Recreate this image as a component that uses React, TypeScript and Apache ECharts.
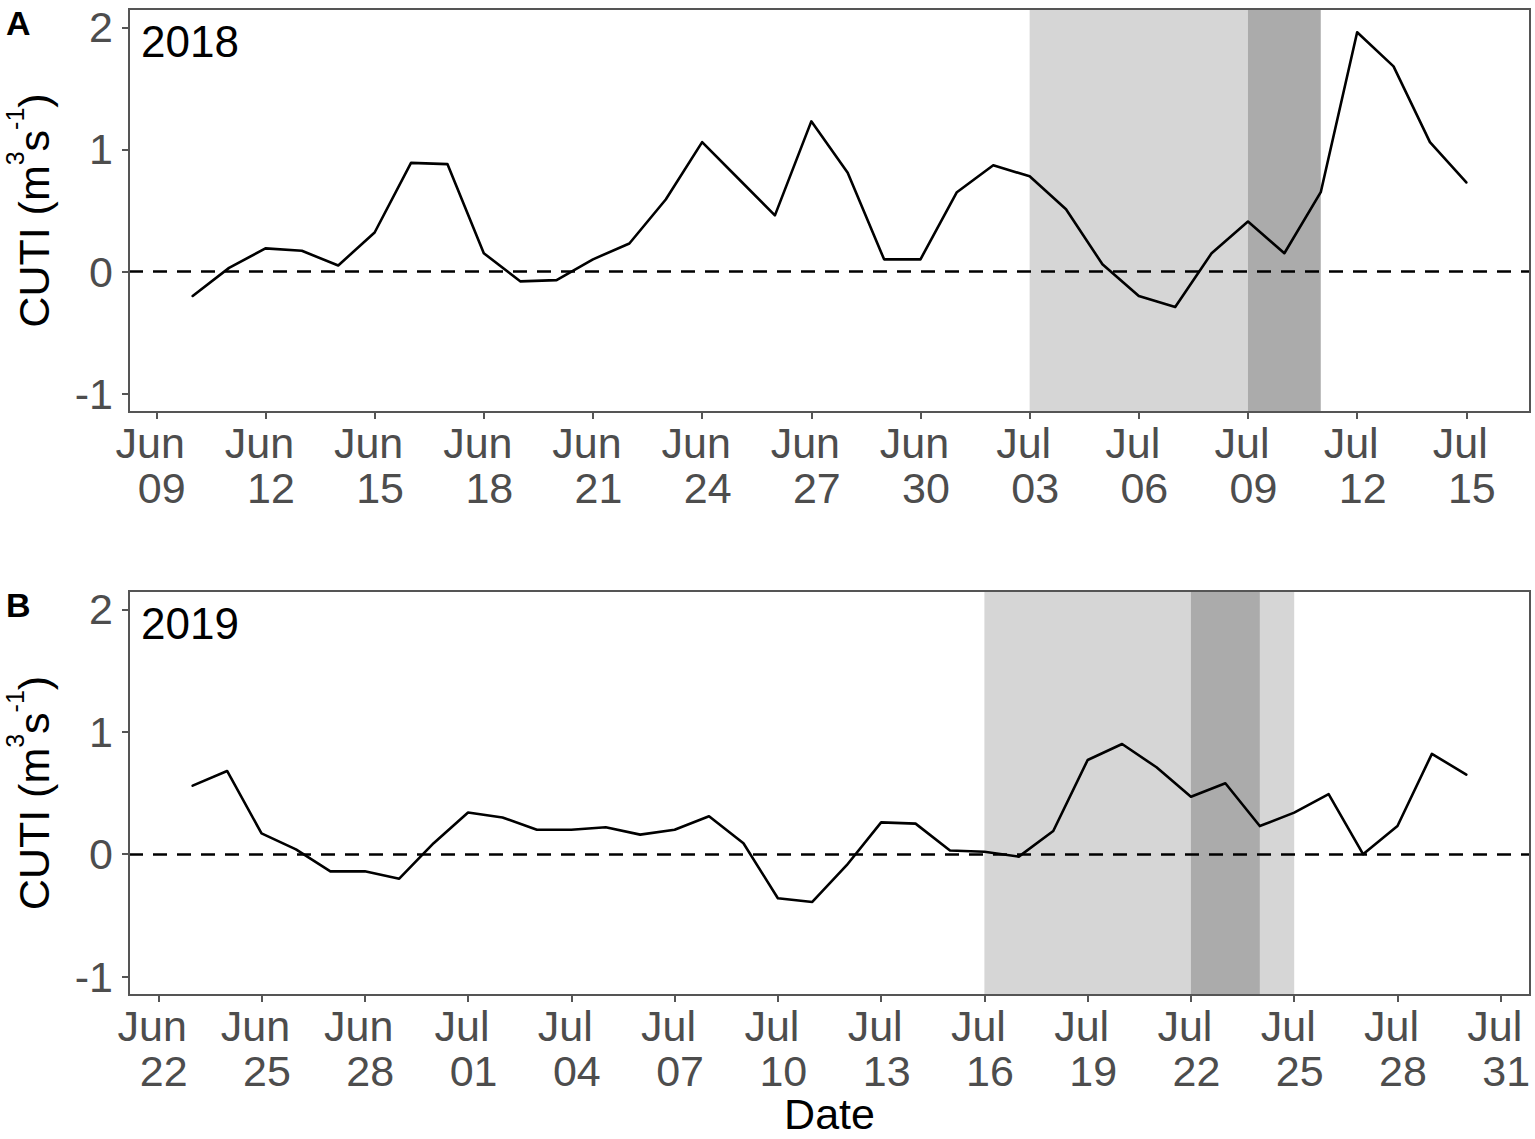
import React, { useEffect, useRef } from "react";
import * as echarts from "echarts";

// ---------------- data ----------------
const YEAR_A = 2018;
const datesA = [
  "06-10", "06-11", "06-12", "06-13", "06-14", "06-15", "06-16", "06-17", "06-18", "06-19",
  "06-20", "06-21", "06-22", "06-23", "06-24", "06-25", "06-26", "06-27", "06-28", "06-29",
  "06-30", "07-01", "07-02", "07-03", "07-04", "07-05", "07-06", "07-07", "07-08", "07-09",
  "07-10", "07-11", "07-12", "07-13", "07-14", "07-15",
];
const valuesA = [
  -0.2, 0.03, 0.19, 0.17, 0.05, 0.32, 0.89, 0.88, 0.15, -0.08,
  -0.07, 0.1, 0.23, 0.59, 1.06, 0.76, 0.46, 1.23, 0.81, 0.1,
  0.1, 0.65, 0.87, 0.78, 0.51, 0.06, -0.2, -0.29, 0.15, 0.41,
  0.15, 0.65, 1.96, 1.68, 1.06, 0.73,
];
const ticksA = ["06-09", "06-12", "06-15", "06-18", "06-21", "06-24", "06-27", "06-30", "07-03", "07-06", "07-09", "07-12", "07-15"];
const shadeA: [string, string, string][] = [
  ["07-03", "07-09", "light"],
  ["07-09", "07-11", "dark"],
];

const YEAR_B = 2019;
const datesB = [
  "06-23", "06-24", "06-25", "06-26", "06-27", "06-28", "06-29", "06-30", "07-01", "07-02",
  "07-03", "07-04", "07-05", "07-06", "07-07", "07-08", "07-09", "07-10", "07-11", "07-12",
  "07-13", "07-14", "07-15", "07-16", "07-17", "07-18", "07-19", "07-20", "07-21", "07-22",
  "07-23", "07-24", "07-25", "07-26", "07-27", "07-28", "07-29", "07-30",
];
const valuesB = [
  0.56, 0.68, 0.17, 0.04, -0.14, -0.14, -0.2, 0.09, 0.34, 0.3,
  0.2, 0.2, 0.22, 0.16, 0.2, 0.31, 0.09, -0.36, -0.39, -0.09,
  0.26, 0.25, 0.03, 0.02, -0.02, 0.19, 0.77, 0.9, 0.71, 0.47,
  0.58, 0.23, 0.34, 0.49, 0.0, 0.23, 0.82, 0.65,
];
const ticksB = ["06-22", "06-25", "06-28", "07-01", "07-04", "07-07", "07-10", "07-13", "07-16", "07-19", "07-22", "07-25", "07-28", "07-31"];
const shadeB: [string, string, string][] = [
  ["07-16", "07-25", "light"],
  ["07-22", "07-24", "dark"],
];

const yTicks = [-1, 0, 1, 2];
const yLimits = [-1, 2];
const panelLetters = ["A", "B"];
const yearLabels = ["2018", "2019"];

// ---------------- helpers / styling ----------------
const MONTHS = ["Jan", "Feb", "Mar", "Apr", "May", "Jun", "Jul", "Aug", "Sep", "Oct", "Nov", "Dec"];
const DAY = 86400000;
const FONT = "'Liberation Sans', Arial, Helvetica, sans-serif";
const TICK_COLOR = "#4D4D4D";
const FRAME_COLOR = "#555555";

const dayNum = (year: number, md: string) => {
  const [m, d] = md.split("-").map(Number);
  return (Date.UTC(year, m - 1, d) - Date.UTC(year, 0, 1)) / DAY;
};

const expand = (lo: number, hi: number) => {
  const r = hi - lo;
  return [lo - 0.05 * r, hi + 0.05 * r];
};

const [Y_MIN, Y_MAX] = expand(yLimits[0], yLimits[1]);

const PLOT_LEFT = 129;
const PLOT_W = 1401;
const PANELS = [
  { top: 9, height: 403 },
  { top: 591, height: 404 },
];

export default function App() {
  const ref = useRef<HTMLDivElement>(null);

  useEffect(() => {
    if (!ref.current) return;
    const chart = echarts.init(ref.current, undefined, { renderer: "svg" });

    const panelData = [
      { year: YEAR_A, dates: datesA, values: valuesA, ticks: ticksA, shade: shadeA },
      { year: YEAR_B, dates: datesB, values: valuesB, ticks: ticksB, shade: shadeB },
    ];

    const grids: any[] = [];
    const xAxes: any[] = [];
    const yAxes: any[] = [];
    const series: any[] = [];
    const graphics: any[] = [];

    panelData.forEach((p, i) => {
      const days = p.dates.map((d) => dayNum(p.year, d));
      const [dMin, dMax] = expand(days[0], days[days.length - 1]);
      // axis coordinate = days since the (expanded) left limit, so the axis min is exactly 0
      const toX = (day: number) => day - dMin;
      const xs = days.map(toX);
      const tickVals = p.ticks.map((t) => toX(dayNum(p.year, t)));
      const base = Date.UTC(p.year, 0, 1);

      grids.push({
        left: PLOT_LEFT,
        width: PLOT_W,
        top: PANELS[i].top,
        height: PANELS[i].height,
        show: false,
        containLabel: false,
        outerBoundsMode: "none",
      });

      xAxes.push({
        type: "value",
        gridIndex: i,
        position: "bottom",
        min: 0,
        max: dMax - dMin,
        scale: true,
        axisLine: { show: false, onZero: false },
        splitLine: { show: false },
        axisTick: {
          show: true,
          inside: false,
          length: 7,
          customValues: tickVals,
          lineStyle: { color: FRAME_COLOR, width: 2 },
        },
        axisLabel: {
          customValues: tickVals,
          margin: 8,
          formatter: (v: number) => {
            const dt = new Date(base + Math.round(v + dMin) * DAY);
            const dd = String(dt.getUTCDate()).padStart(2, "0");
            return `{m|${MONTHS[dt.getUTCMonth()]}}\n{d|${dd}}`;
          },
          rich: {
            m: { fontSize: 43, fontFamily: FONT, color: TICK_COLOR, lineHeight: 45, padding: [0, 12, 0, 0] },
            d: { fontSize: 43, fontFamily: FONT, color: TICK_COLOR, lineHeight: 45, padding: [0, 0, 0, 11] },
          },
        },
        ...(i === 1
          ? {
              name: "Date",
              nameLocation: "middle",
              nameGap: 103,
              nameTextStyle: { fontSize: 43, fontFamily: FONT, color: "#000", lineHeight: 32 },
            }
          : {}),
      });

      yAxes.push({
        type: "value",
        gridIndex: i,
        position: "left",
        min: Y_MIN,
        max: Y_MAX,
        axisLine: { show: false, onZero: false },
        splitLine: { show: false },
        axisTick: {
          show: true,
          inside: false,
          length: 7,
          customValues: yTicks,
          lineStyle: { color: FRAME_COLOR, width: 2 },
        },
        axisLabel: {
          customValues: yTicks,
          margin: 16,
          fontSize: 43,
          fontFamily: FONT,
          color: TICK_COLOR,
          formatter: (v: number) => String(v),
        },
        name: "{n|CUTI (m}{s|3}{n|s}{s|-1}{n|)}",
        nameLocation: "middle",
        nameRotate: 90,
        nameGap: 74,
        nameTextStyle: {
          rich: {
            n: { fontSize: 43, fontFamily: FONT, color: "#000", verticalAlign: "bottom", lineHeight: 43 },
            s: { fontSize: 25, fontFamily: FONT, color: "#000", verticalAlign: "top", lineHeight: 53 },
          },
        },
      });

      series.push({
        type: "custom",
        xAxisIndex: i,
        yAxisIndex: i,
        z: 1,
        silent: true,
        clip: false,
        encode: { x: [0, 1], y: 2 },
        data: p.shade.map(([s, e, k]) => [toX(dayNum(p.year, s)), toX(dayNum(p.year, e)), k === "dark" ? 1 : 0]),
        renderItem: (params: any, api: any) => {
          const p0 = api.coord([api.value(0), Y_MAX]);
          const p1 = api.coord([api.value(1), Y_MIN]);
          return {
            type: "rect",
            shape: { x: p0[0], y: p0[1], width: p1[0] - p0[0], height: p1[1] - p0[1] },
            style: { fill: api.value(2) === 1 ? "#ABABAB" : "#D6D6D6" },
          };
        },
      });

      series.push({
        type: "line",
        xAxisIndex: i,
        yAxisIndex: i,
        z: 5,
        silent: true,
        symbol: "none",
        showSymbol: false,
        data: xs.map((x, k) => [x, p.values[k]]),
        lineStyle: { color: "#000", width: 2.6, join: "round", cap: "round" },
        emphasis: { disabled: true },
        markLine: {
          silent: true,
          symbol: ["none", "none"],
          label: { show: false },
          lineStyle: { color: "#000", width: 2.5, type: [14, 10] },
          emphasis: { disabled: true },
          data: [{ yAxis: 0 }],
        },
      });

      // frame
      graphics.push({
        type: "rect",
        silent: true,
        z: 100,
        shape: { x: PLOT_LEFT, y: PANELS[i].top, width: PLOT_W, height: PANELS[i].height },
        style: { fill: "transparent", stroke: FRAME_COLOR, lineWidth: 2 },
      });
      // panel letter
      graphics.push({
        type: "text",
        silent: true,
        z: 100,
        x: 6,
        y: PANELS[i].top - 3,
        style: {
          text: panelLetters[i],
          fontSize: 34,
          fontWeight: "bold",
          fontFamily: FONT,
          fill: "#000",
          align: "left",
          verticalAlign: "top",
          lineHeight: 34,
        },
      });
      // year label
      graphics.push({
        type: "text",
        silent: true,
        z: 100,
        x: 141,
        y: PANELS[i].top + 10,
        style: {
          text: yearLabels[i],
          fontSize: 44,
          fontFamily: FONT,
          fill: "#000",
          align: "left",
          verticalAlign: "top",
          lineHeight: 44,
        },
      });
    });

    chart.setOption({
      animation: false,
      backgroundColor: "#ffffff",
      grid: grids,
      xAxis: xAxes,
      yAxis: yAxes,
      series,
      graphic: { elements: graphics },
    });

    return () => chart.dispose();
  }, []);

  return (
    <div
      ref={ref}
      style={{ position: "absolute", left: 0, top: 0, width: 1535, height: 1139, background: "#fff" }}
    />
  );
}
